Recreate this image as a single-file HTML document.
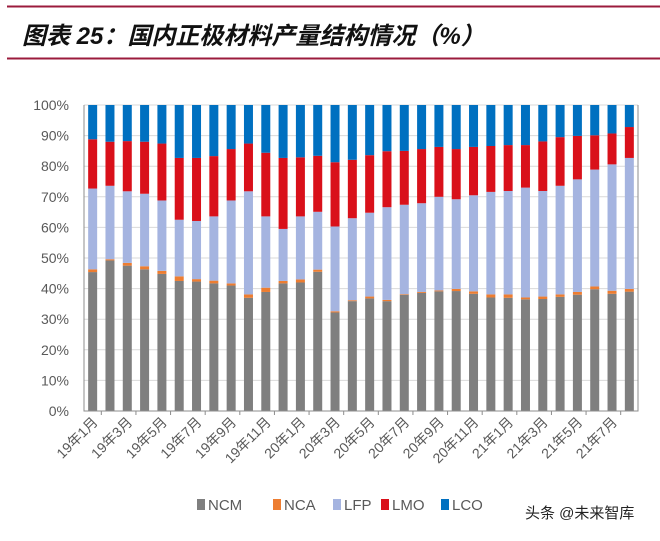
<!DOCTYPE html>
<html><head><meta charset="utf-8"><style>
body{margin:0;background:#fff;width:660px;height:536px;overflow:hidden;font-family:"Liberation Sans","Noto Sans CJK SC",sans-serif}
</style></head><body>
<svg id="c" width="660" height="536" xmlns="http://www.w3.org/2000/svg">
<line x1="7" y1="6.5" x2="660" y2="6.5" stroke="#9b1b3c" stroke-width="2"/>
<line x1="7" y1="58.5" x2="660" y2="58.5" stroke="#9b1b3c" stroke-width="2"/>
<text x="22" y="44" font-size="24" font-weight="bold" font-style="italic" fill="#111" font-family="'Liberation Sans','Noto Sans CJK SC',sans-serif">图表 25：国内正极材料产量结构情况（%）</text>
<g id="grid"></g><g id="bars"></g><g id="axes"></g><g id="legend"></g>
<text x="525" y="518" font-size="15" fill="#222" font-family="'Liberation Sans','Noto Sans CJK SC',sans-serif">头条 @未来智库</text>
</svg>
<script>
const categories=["19年1月","19年2月","19年3月","19年4月","19年5月","19年6月","19年7月","19年8月","19年9月","19年10月","19年11月","19年12月","20年1月","20年2月","20年3月","20年4月","20年5月","20年6月","20年7月","20年8月","20年9月","20年10月","20年11月","20年12月","21年1月","21年2月","21年3月","21年4月","21年5月","21年6月","21年7月","21年8月"];
const ncm=[45.4,49.2,47.5,46.3,44.8,42.5,42.3,41.7,41.0,37.0,38.9,41.7,42.0,45.5,32.2,35.9,36.8,35.9,38.0,38.6,39.1,39.2,38.3,37.1,37.0,36.5,36.6,37.3,38.0,39.8,38.3,39.0];
const nca=[0.9,0.4,0.9,1.0,1.0,1.5,0.8,0.9,0.7,1.1,1.4,0.8,1.0,0.7,0.4,0.3,0.6,0.4,0.2,0.3,0.3,0.7,0.8,1.0,1.1,0.6,0.8,0.8,0.9,0.9,1.0,0.9];
const lfp=[26.4,24.0,23.4,23.7,23.0,18.5,19.0,21.0,27.1,33.7,23.3,17.0,20.6,18.9,27.7,26.8,27.4,30.3,29.2,29.0,30.6,29.3,31.4,33.5,33.8,35.9,34.5,35.5,36.8,38.2,41.3,42.8];
const lmo=[16.1,14.4,16.4,17.0,18.6,20.2,20.6,19.7,16.8,15.6,20.8,23.2,19.3,18.3,21.0,19.1,18.8,18.3,17.6,17.7,16.3,16.4,15.8,15.0,15.0,13.9,16.2,15.9,14.2,11.2,10.1,10.1];
const lco=ncm.map((v,i)=>+(100-v-nca[i]-lfp[i]-lmo[i]).toFixed(1));
const series=[["NCM",ncm,"#7f7f7f"],["NCA",nca,"#ed7d31"],["LFP",lfp,"#a5b4e0"],["LMO",lmo,"#d9101a"],["LCO",lco,"#0070c0"]];
const yTicks=[0,10,20,30,40,50,60,70,80,90,100];
const NS="http://www.w3.org/2000/svg";
const L=84,R=638,T=105,B=411;
const bw=(R-L)/categories.length;
const y=v=>B-(B-T)*v/100;
const x=i=>L+bw*(i+0.5);
function mk(tag,attrs,parent){const e=document.createElementNS(NS,tag);for(const k in attrs)e.setAttribute(k,attrs[k]);document.getElementById(parent).appendChild(e);return e;}
yTicks.forEach(t=>{
 const g=mk("line",{x1:L,x2:R,y1:y(t),y2:y(t),stroke:"#d9d9d9","stroke-width":1},"grid");
 
 
 const tx=mk("text",{x:L-15,y:y(t)+5,"text-anchor":"end","font-size":14,fill:"#595959"},"axes");
 tx.textContent=t+"%";
 
 
});
categories.forEach((c,i)=>{
 let acc=0;
 series.forEach(([n,vals,col])=>{
  const v=vals[i];
  const r=mk("rect",{x:x(i)-4.5,width:9,y:y(acc+v),height:y(acc)-y(acc+v),fill:col},"bars");
  
  
  acc+=v;
 });
 if(i%2===0){
  const ax0=x(i)+6, ay0=B+12;
  const tx=mk("text",{x:ax0,y:ay0,"text-anchor":"end","font-size":14,fill:"#595959",transform:`rotate(-45 ${ax0} ${ay0})`},"axes");
  tx.textContent=c;
  
  
  const tk=mk("line",{x1:x(i)+bw/2,x2:x(i)+bw/2,y1:B,y2:B+4,stroke:"#8c8c8c"},"axes");
  
  
 }
});
const ax=mk("path",{d:`M${L} ${T}V${B}H${R}V${T}`,fill:"none",stroke:"#8c8c8c","stroke-width":1},"axes");


const lx=[197,273,333,381,441];
series.forEach(([n,vals,col],k)=>{
 const s=mk("rect",{x:lx[k],y:499,width:8,height:11,fill:col},"legend");
 
 
 const t=mk("text",{x:lx[k]+11,y:510,"font-size":15,fill:"#595959"},"legend");
 t.textContent=n;
 
 
});
</script>
</body></html>
